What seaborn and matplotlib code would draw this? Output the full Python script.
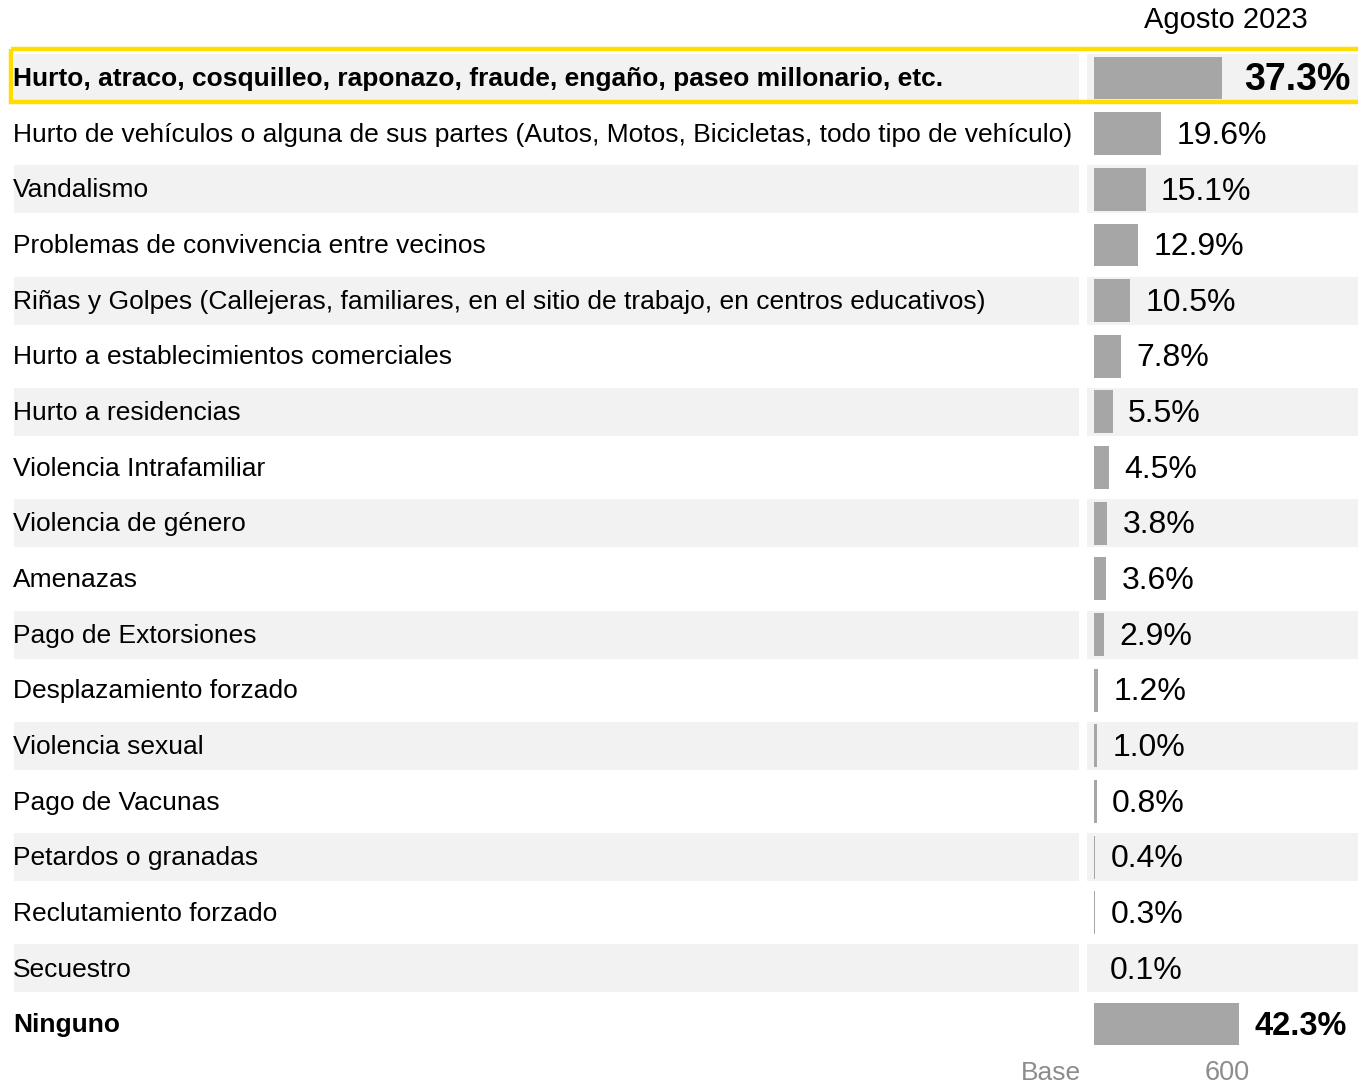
import matplotlib
matplotlib.use("Agg")
import matplotlib.pyplot as plt
import matplotlib.patches as mpatches
import seaborn as sns
import pandas as pd

categories = [
    "Hurto, atraco, cosquilleo, raponazo, fraude, engaño, paseo millonario, etc.",
    "Hurto de vehículos o alguna de sus partes (Autos, Motos, Bicicletas, todo tipo de vehículo)",
    "Vandalismo",
    "Problemas de convivencia entre vecinos",
    "Riñas y Golpes (Callejeras, familiares, en el sitio de trabajo, en centros educativos)",
    "Hurto a establecimientos comerciales",
    "Hurto a residencias",
    "Violencia Intrafamiliar",
    "Violencia de género",
    "Amenazas",
    "Pago de Extorsiones",
    "Desplazamiento forzado",
    "Violencia sexual",
    "Pago de Vacunas",
    "Petardos o granadas",
    "Reclutamiento forzado",
    "Secuestro",
    "Ninguno",
]
values = [37.3, 19.6, 15.1, 12.9, 10.5, 7.8, 5.5, 4.5, 3.8, 3.6, 2.9, 1.2, 1.0, 0.8, 0.4, 0.3, 0.1, 42.3]
bold_rows = [0, 17]
period = "Agosto 2023"
base_label = "Base"
base_value = "600"

df = pd.DataFrame({"cat": categories, "val": values})

# layout (pixels)
W, H = 1358, 1087
x0_px = 1094          # bar origin
px_per_pct = 3.43
row0_px = 78.0
pitch_px = 55.65

sns.set_theme(style="white")
plt.rcParams["font.family"] = ["Liberation Sans", "DejaVu Sans"]

fig = plt.figure(figsize=(W / 100, H / 100), dpi=100)
ax = fig.add_axes([0, 0, 1, 1])

def px2x(px):
    return (px - x0_px) / px_per_pct

def px2y(py):
    return (py - row0_px) / pitch_px

# alternating backgrounds
for i in range(len(categories)):
    if i % 2 == 0:
        h = 48 / pitch_px
        ax.add_patch(mpatches.Rectangle((px2x(14), i - h / 2), px2x(1079) - px2x(14), h,
                                        color="#f2f2f2", zorder=0, lw=0))
        ax.add_patch(mpatches.Rectangle((px2x(1087), i - h / 2), px2x(1360) - px2x(1087), h,
                                        color="#f2f2f2", zorder=0, lw=0))

sns.barplot(data=df, x="val", y="cat", orient="h", color="#a6a6a6", saturation=1,
            width=0.77, linewidth=0, ax=ax, zorder=2)

# highlight box on first row
hb = 53 / pitch_px
ax.add_patch(mpatches.Rectangle((px2x(11), -hb / 2 - 0.04), px2x(1362) - px2x(11), hb,
                                fill=False, edgecolor="#ffdd00", lw=3.2, zorder=3))

for i, (cat, v) in enumerate(zip(categories, values)):
    bold = i in bold_rows
    ax.text(px2x(13), i + 0.02, cat, ha="left", va="center", fontsize=19,
            fontweight="bold" if bold else "normal", color="black", zorder=4)
    if i == 0:
        ax.annotate(f"{v:.1f}%", (v, i + 0.03), xytext=(16, 0), textcoords="offset points",
                    ha="left", va="center", fontsize=27, fontweight="bold",
                    color="black", zorder=4)
    else:
        ax.annotate(f"{v:.1f}%", (v, i + 0.04), xytext=(11, 0), textcoords="offset points",
                    ha="left", va="center", fontsize=23 if not bold else 23.5,
                    fontweight="bold" if bold else "normal", color="black", zorder=4)

ax.text(px2x(1226), px2y(20), period, ha="center", va="center", fontsize=21, color="black")
ax.text(px2x(1051), px2y(1073), base_label, ha="center", va="center", fontsize=19, color="#8c8c8c")
ax.text(px2x(1227), px2y(1073), base_value, ha="center", va="center", fontsize=19.5, color="#8c8c8c")

ax.set_xlim(px2x(0), px2x(W))
ax.set_ylim(px2y(H), px2y(0))
ax.set_axis_off()

fig.savefig("out.png", dpi=100)
